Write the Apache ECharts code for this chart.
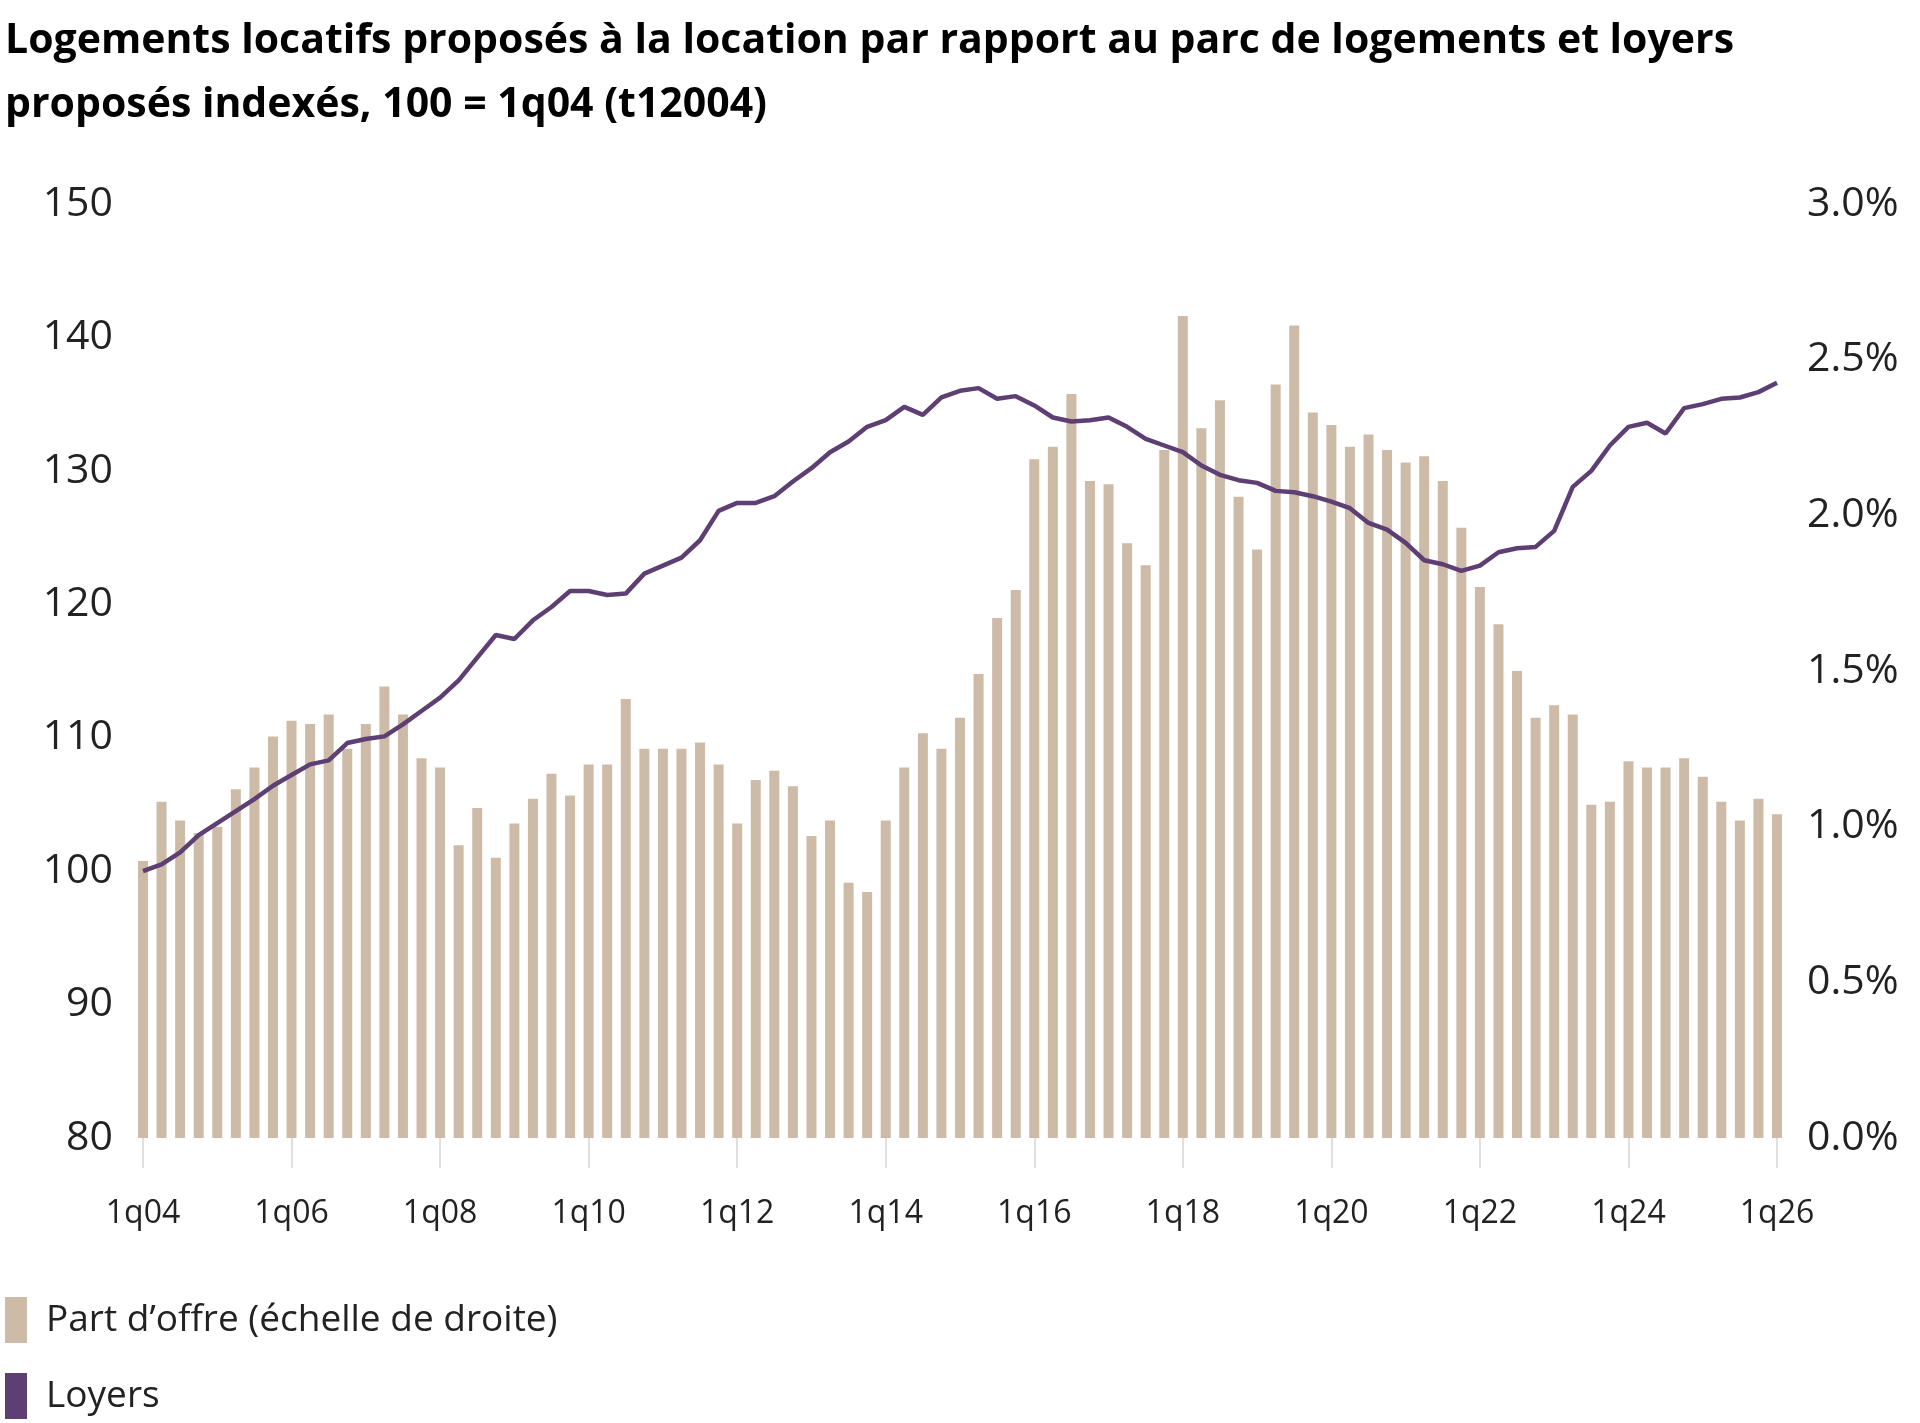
<!DOCTYPE html>
<html>
<head>
<meta charset="utf-8">
<script src="https://cdn.jsdelivr.net/npm/echarts@6/dist/echarts.min.js"></script>
<style>
  body { margin: 0; background: #fff; }
  #chart { width: 1920px; height: 1423px; }
</style>
</head>
<body>
<div id="chart"></div>
<script>
// quarters 1q04 .. 1q26
var quarters = [];
for (var y = 4; y <= 26; y++) {
    for (var q = 1; q <= 4; q++) {
        if (y === 26 && q > 1) break;
        quarters.push(q + 'q' + (y < 10 ? '0' + y : y));
    }
}

// Part d'offre, % (right axis)
var partOffre = [
    0.89, 1.08, 1.02, 0.98,
    1.00, 1.12, 1.19, 1.29,
    1.34, 1.33, 1.36, 1.25,
    1.33, 1.45, 1.36, 1.22,
    1.19, 0.94, 1.06, 0.90,
    1.01, 1.09, 1.17, 1.10,
    1.20, 1.20, 1.41, 1.25,
    1.25, 1.25, 1.27, 1.20,
    1.01, 1.15, 1.18, 1.13,
    0.97, 1.02, 0.82, 0.79,
    1.02, 1.19, 1.30, 1.25,
    1.35, 1.49, 1.67, 1.76,
    2.18, 2.22, 2.39, 2.11,
    2.10, 1.91, 1.84, 2.21,
    2.64, 2.28, 2.37, 2.06,
    1.89, 2.42, 2.61, 2.33,
    2.29, 2.22, 2.26, 2.21,
    2.17, 2.19, 2.11, 1.96,
    1.77, 1.65, 1.50, 1.35,
    1.39, 1.36, 1.07, 1.08,
    1.21, 1.19, 1.19, 1.22,
    1.16, 1.08, 1.02, 1.09,
    1.04
];

// Loyers, index 100 = 1q04 (left axis)
var loyers = [
    100.0, 100.5, 101.4, 102.7,
    103.6, 104.5, 105.4, 106.4,
    107.2, 108.0, 108.3, 109.6,
    109.9, 110.1, 111.0, 112.0,
    113.0, 114.3, 116.0, 117.7,
    117.4, 118.8, 119.8, 121.0,
    121.0, 120.7, 120.8, 122.3,
    122.9, 123.5, 124.8, 127.0,
    127.6, 127.6, 128.1, 129.2,
    130.2, 131.4, 132.2, 133.3,
    133.8, 134.8, 134.2, 135.5,
    136.0, 136.2, 135.4, 135.6,
    134.9, 134.0, 133.7, 133.8,
    134.0, 133.3, 132.4, 131.9,
    131.4, 130.4, 129.7, 129.3,
    129.1, 128.5, 128.4, 128.1,
    127.7, 127.2, 126.1, 125.6,
    124.6, 123.3, 123.0, 122.5,
    122.9, 123.9, 124.2, 124.3,
    125.5, 128.8, 130.0, 131.9,
    133.3, 133.6, 132.8, 134.7,
    135.0, 135.4, 135.5, 135.9,
    136.6
];

var leftTicks = [80, 150, 10];
var rightTicks = [0, 3, 0.5];

var font = '"Open Sans", "Noto Sans", sans-serif';
var barName = 'Part d\u2019offre (échelle de droite)';
var legendText = { fontFamily: font, fontSize: 37, color: '#222', padding: [0, 0, 0, 14] };

var myChart = echarts.init(document.getElementById('chart'));
myChart.setOption({
    title: {
        text: 'Logements locatifs proposés à la location par rapport au parc de logements et loyers\nproposés indexés, 100 = 1q04 (t12004)',
        left: 0,
        top: 4,
        textStyle: { fontFamily: font, fontSize: 41, fontWeight: 'bold', color: '#000', lineHeight: 64 }
    },
    legend: [{
        left: 0, top: 1292,
        itemWidth: 22, itemHeight: 46, icon: 'rect',
        textStyle: legendText,
        data: [barName]
    }, {
        left: 0, top: 1368,
        itemWidth: 22, itemHeight: 46, icon: 'rect',
        textStyle: legendText,
        data: ['Loyers']
    }],
    grid: { left: 143, right: 143, top: 204, bottom: 285 },
    xAxis: {
        type: 'category',
        data: quarters,
        boundaryGap: false,
        axisLine: { show: false },
        axisTick: { show: true, interval: 7, length: 30, lineStyle: { color: '#e0e0e0', width: 2 } },
        axisLabel: { interval: 7, margin: 60, fontFamily: font, fontSize: 32, color: '#222' }
    },
    yAxis: [{
        type: 'value',
        min: leftTicks[0], max: leftTicks[1], interval: leftTicks[2],
        position: 'left',
        splitLine: { show: false },
        axisLabel: { margin: 30, fontFamily: font, fontSize: 41, color: '#222' }
    }, {
        type: 'value',
        min: rightTicks[0], max: rightTicks[1], interval: rightTicks[2],
        position: 'right',
        splitLine: { show: false },
        axisLabel: {
            margin: 30, fontFamily: font, fontSize: 41, color: '#222',
            formatter: function (v) { return v.toFixed(1) + '%'; }
        }
    }],
    series: [{
        name: barName,
        type: 'bar',
        yAxisIndex: 1,
        data: partOffre,
        barWidth: 10,
        itemStyle: { color: '#cdbba8' }
    }, {
        name: 'Loyers',
        type: 'line',
        yAxisIndex: 0,
        data: loyers,
        symbol: 'none',
        lineStyle: { color: '#5e3f73', width: 4.5 },
        itemStyle: { color: '#5e3f73' }
    }]
});
</script>
</body>
</html>
